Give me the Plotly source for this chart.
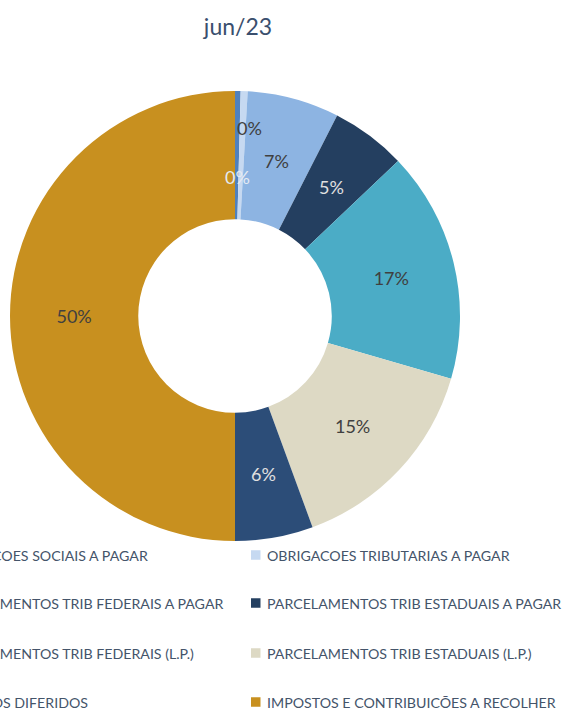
import math

import plotly.graph_objects as go

W, H = 565, 708

TITLE = "jun/23"
LABELS = [
    "OBRIGACOES SOCIAIS A PAGAR",
    "OBRIGACOES TRIBUTARIAS A PAGAR",
    "PARCELAMENTOS TRIB FEDERAIS A PAGAR",
    "PARCELAMENTOS TRIB ESTADUAIS A PAGAR",
    "PARCELAMENTOS TRIB FEDERAIS (L.P.)",
    "PARCELAMENTOS TRIB ESTADUAIS (L.P.)",
    "IMPOSTOS DIFERIDOS",
    "IMPOSTOS E CONTRIBUIÇÕES A RECOLHER",
]
VALUES = [0.4, 0.5, 6.6, 5.4, 16.6, 14.9, 5.6, 50.0]
COLORS = ["#4F81BD", "#C6D9F1", "#8DB4E2", "#243F60",
          "#4BACC6", "#DDD9C4", "#2C4D78", "#C8901F"]
LABEL_COLORS = ["#404040", "#E4EAF2", "#404040", "#E0E0E0",
                "#404040", "#404040", "#E0E0E0", "#404040"]

FONT = "Lato"
TEXT_COLOR = "#44546A"

# donut geometry in pixels
CX, CY, R, HOLE = 235, 316, 225, 0.43


def px_x(x):
    return x / W


def px_y(y):
    return 1 - y / H


def main():
    total = sum(VALUES)

    # Excel keeps the labels on the middle of the ring; plotly pushes the
    # ones in thin slices outward, so those are placed as annotations
    big = [v >= 10 for v in VALUES]
    templates = ["%{percent:.0%}" if b else "" for b in big]

    fig = go.Figure(
        go.Pie(
            labels=LABELS,
            values=VALUES,
            sort=False,
            direction="clockwise",
            rotation=0,
            hole=HOLE,
            marker=dict(colors=COLORS, line=dict(width=0)),
            texttemplate=templates,
            textposition="inside",
            insidetextorientation="horizontal",
            insidetextfont=dict(family=FONT, size=18, color=LABEL_COLORS),
            domain=dict(x=[px_x(CX - R), px_x(CX + R)], y=[px_y(CY + R), px_y(CY - R)]),
            showlegend=False,
            hoverinfo="label+percent",
        )
    )

    annotations = []
    r_mid = R * (1 + HOLE) / 2
    # the two near-zero labels are nudged apart in the original
    nudged = {0: (249, 128), 1: (237, 177)}
    cum = 0
    for i, v in enumerate(VALUES):
        frac = (cum + v / 2) / total
        cum += v
        if big[i]:
            continue
        if i in nudged:
            x, y = nudged[i]
        else:
            theta = 2 * math.pi * frac
            x = CX + r_mid * math.sin(theta)
            y = CY - r_mid * math.cos(theta)
        annotations.append(dict(
            x=px_x(x), y=px_y(y), xref="paper", yref="paper",
            xanchor="center", yanchor="middle",
            text=f"{round(v / total * 100)}%", showarrow=False,
            font=dict(family=FONT, size=18, color=LABEL_COLORS[i]),
        ))

    # legend laid out by hand: two columns, the left one runs off the page
    col_x = [-63, 265]
    row_y = [555, 603, 653, 702]
    shapes = []
    for i, name in enumerate(LABELS):
        cx = col_x[i % 2]
        cy = row_y[i // 2]
        annotations.append(dict(
            x=px_x(cx), y=px_y(cy), xref="paper", yref="paper",
            xanchor="left", yanchor="middle", text=name, showarrow=False,
            font=dict(family=FONT, size=14.2, color=TEXT_COLOR),
        ))
        shapes.append(dict(
            type="rect", xref="paper", yref="paper",
            x0=px_x(cx - 14), x1=px_x(cx - 4.5),
            y0=px_y(cy + 4.75), y1=px_y(cy - 4.75),
            fillcolor=COLORS[i], line=dict(width=0),
        ))

    fig.update_layout(
        title=dict(
            text=TITLE, x=px_x(238), y=px_y(27), xref="paper",
            xanchor="center", yanchor="middle",
            font=dict(family=FONT, size=23, color="#3A4F6E"),
        ),
        width=W,
        height=H,
        margin=dict(l=0, r=0, t=0, b=0, autoexpand=False),
        paper_bgcolor="white",
        plot_bgcolor="white",
        annotations=annotations,
        shapes=shapes,
    )

    # the page's default body margin would shift the figure by 8px
    fig.write_html(
        "out.html",
        config={"displayModeBar": False},
        post_script="document.body.style.margin = '0';",
    )


if __name__ == "__main__":
    main()
